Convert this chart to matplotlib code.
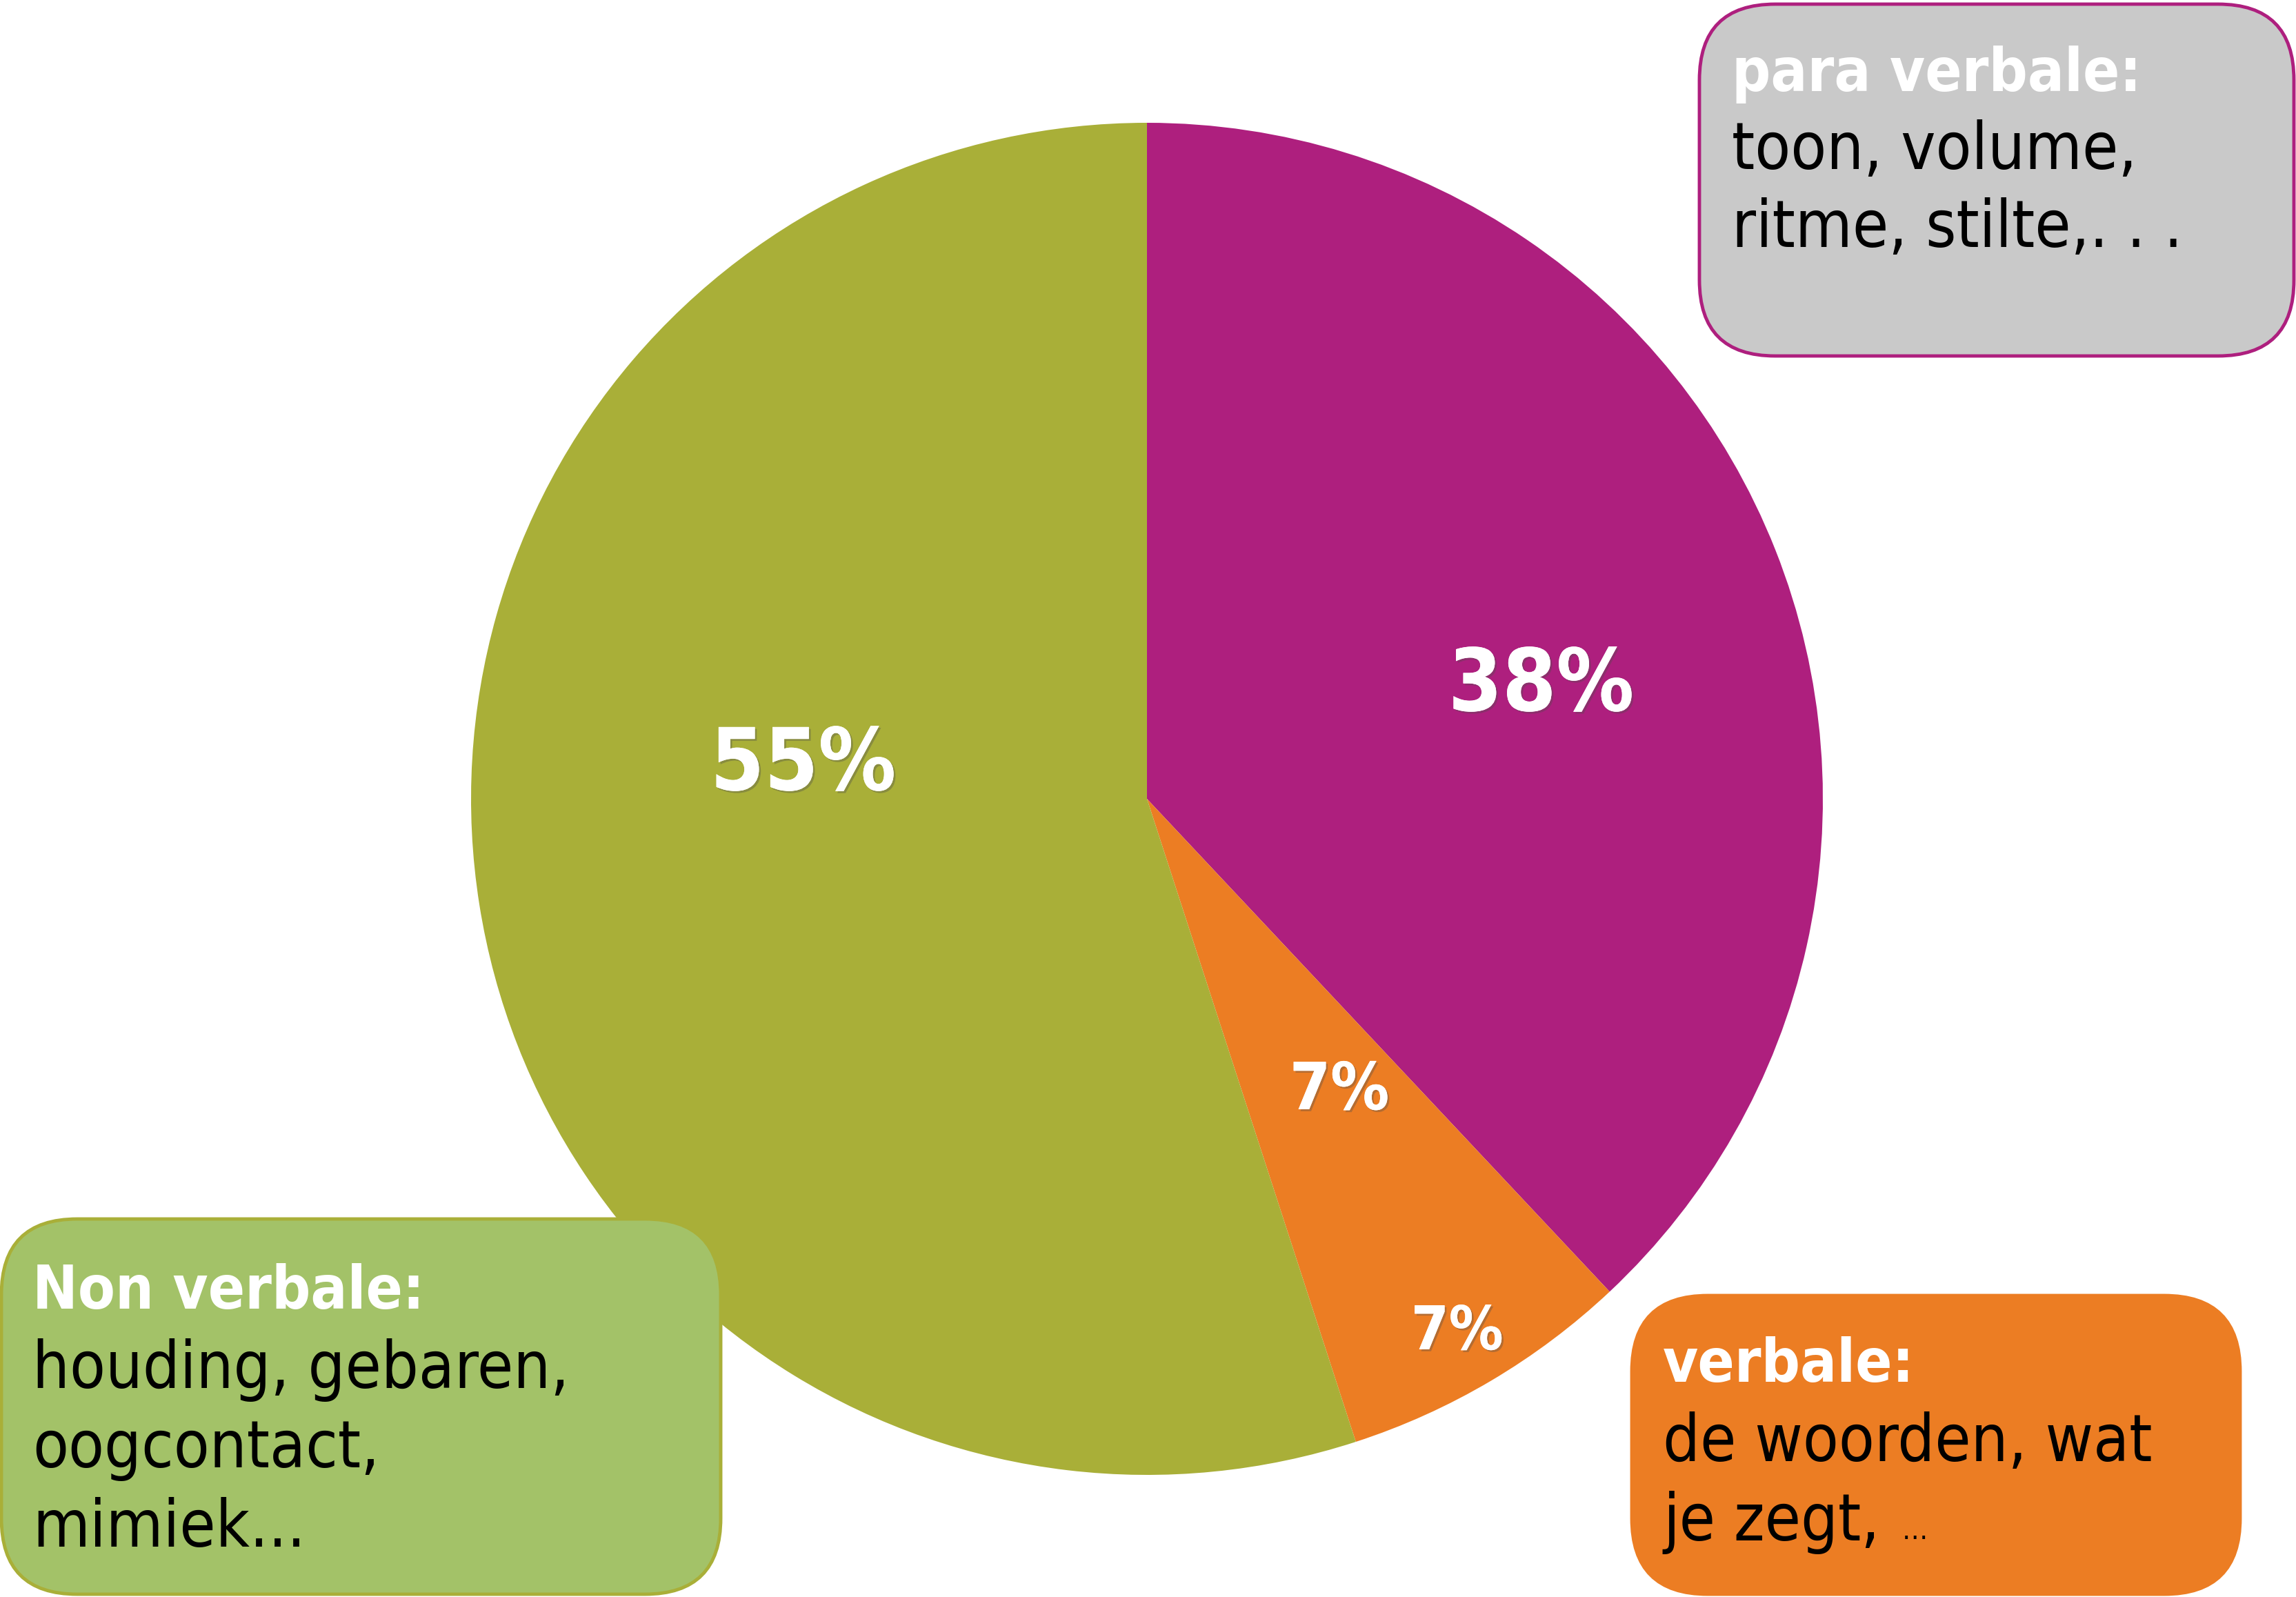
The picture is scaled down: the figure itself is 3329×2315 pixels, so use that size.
import matplotlib
matplotlib.use("Agg")
import matplotlib.pyplot as plt
from matplotlib.patches import FancyBboxPatch
import matplotlib.patheffects as pe

# data
labels = ["para verbale", "verbale", "Non verbale"]
values = [38, 7, 55]
colors = ["#AE1F7E", "#EC7D23", "#A9AF38"]
pct_labels = ["38%", "7%", "55%", "7%"]

# boxes: titel + tekst
box_titles = ["para verbale:", "Non verbale:", "verbale:"]
box_lines = [
    ["toon, volume,", "ritme, stilte,. . ."],
    ["houding, gebaren,", "oogcontact,", "mimiek..."],
    ["de woorden, wat", "je zegt, "],
]

W, H = 3330, 2315
fig = plt.figure(figsize=(W / 100, H / 100), dpi=100)
ax = fig.add_axes([0, 0, 1, 1])

def py(y):
    # pixel-y van boven naar data-y
    return H - y

font = dict(family="DejaVu Sans", stretch="condensed")

ax.pie(values, colors=colors, startangle=90, counterclock=False,
       center=(1663, py(1158)), radius=980, frame=True,
       wedgeprops=dict(linewidth=0))
ax.set_xlim(0, W)
ax.set_ylim(0, H)
ax.set_aspect("equal")
ax.axis("off")

shadow = [pe.withSimplePatchShadow(offset=(2, -2), alpha=0.35), pe.Normal()]
pct_pos = [(2100, 1030), (1870, 1608), (1030, 1145), (2046, 1956)]
pct_size = [90, 68, 90, 63]
for txt, (x, y), s in zip(pct_labels, pct_pos, pct_size):
    ax.text(x, py(y), txt, color="white", fontsize=s, fontweight="bold",
            ha="left", va="baseline", path_effects=shadow, zorder=5, **font)

# rounded boxes
boxes = [
    dict(x0=2464, y0=6, x1=3326, y1=516, fc="#C9C9C9", ec="#AE1F7E"),
    dict(x0=2, y0=1767, x1=1045, y1=2311, fc="#A3C268", ec="#A9AF38"),
    dict(x0=2366, y0=1878, x1=3248, y1=2311, fc="#EC7D23", ec="#EC7D23"),
]
text_pos = [(2511, 132, 113), (47, 1897, 115), (2411, 2003, 115)]

last = None
for b, title, lines, (tx, ty, dy) in zip(boxes, box_titles, box_lines, text_pos):
    pad = 110
    p = FancyBboxPatch((b["x0"] + pad, py(b["y1"]) + pad),
                       b["x1"] - b["x0"] - 2 * pad, b["y1"] - b["y0"] - 2 * pad,
                       boxstyle="round,pad=%d,rounding_size=%d" % (pad, pad),
                       fc=b["fc"], ec=b["ec"], lw=3.5, zorder=10)
    ax.add_patch(p)
    ax.text(tx, py(ty), title, color="white", fontsize=63, fontweight="bold",
            ha="left", va="baseline", zorder=11, **font)
    for i, line in enumerate(lines):
        last = ax.text(tx, py(ty + dy * (i + 1)), line, color="black",
                       fontsize=68, ha="left", va="baseline", zorder=11, **font)

# kleine puntjes achter "je zegt,"
ax.annotate("\u2026", xy=(1, 0), xycoords=last, xytext=(4, 16),
            textcoords="offset points", fontsize=30, color="black",
            ha="left", va="baseline", zorder=11, **font)

fig.savefig("out.png", dpi=100, facecolor="white")
